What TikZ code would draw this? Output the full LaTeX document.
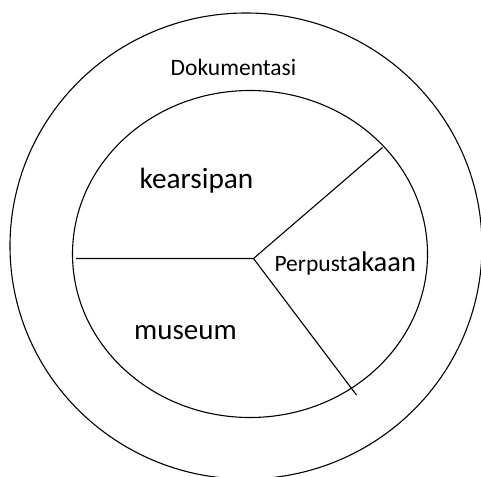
\documentclass[tikz,border=0pt]{standalone}
\usepackage{fontspec}
\setmainfont{Carlito}

\begin{document}
\begin{tikzpicture}[x=1pt, y=-1pt, line width=1.1pt,
  label/.style={anchor=base, inner sep=0pt}]
        \useasboundingbox (0,0) rectangle (481,476);

        % Lingkaran luar dan dalam
        \draw (246,246) ellipse (236pt and 233pt);
        \draw (250,254) ellipse (177.5pt and 163.5pt);

        % Garis pembagi
        \coordinate (pusat) at (253.5,258.5);
        \coordinate (kiri) at (76,258.5);
        \coordinate (atas) at (382.5,147.5);
        \coordinate (bawah) at (356.5,395);
        \draw (kiri) -- (pusat) -- (atas);
        \draw (pusat) -- (bawah);

        % Teks
        \node[label, font=\fontsize{23.5}{28}\selectfont] (dok) at (233.5,76) {Dokumentasi};
        \node[label, font=\fontsize{29.3}{34}\selectfont] (arsip) at (196.5,188) {kearsipan};
        \node[label, font=\fontsize{29}{34}\selectfont] (museum) at (185.5,339) {museum};
        \node[label, anchor=base west, font=\fontsize{23.5}{27}\selectfont] (pustaka) at (274,271.5) {Perpust{\fontsize{28.5}{32}\selectfont akaan}};
    \end{tikzpicture}
\end{document}
